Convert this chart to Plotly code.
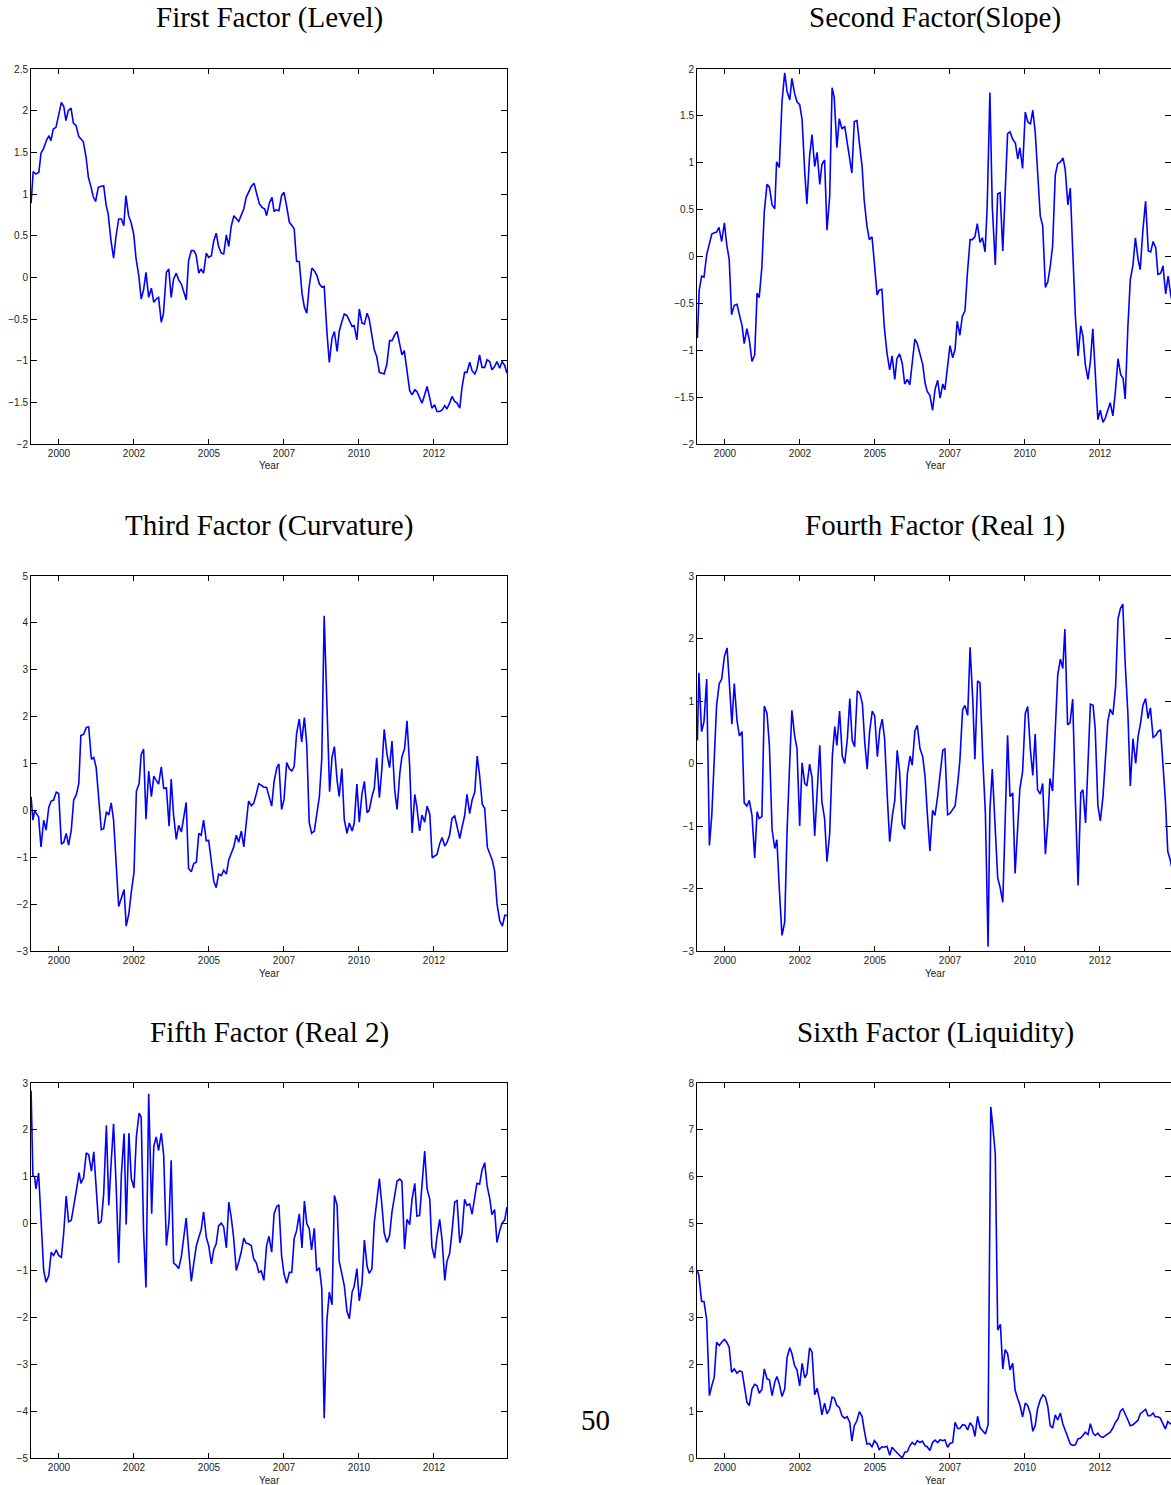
import plotly.graph_objects as go

# ---------------- data (decimal year, factor value) ----------------
level = [(1999.07,0.89),(1999.14,1.27),(1999.23,1.24),(1999.33,1.26),(1999.40,1.49),(1999.48,1.54),(1999.59,1.65),(1999.67,1.70),(1999.73,1.64),(1999.81,1.78),(1999.90,1.80),(1999.98,1.95),(2000.08,2.10),(2000.16,2.05),(2000.23,1.88),(2000.31,2.00),(2000.40,2.03),(2000.48,1.85),(2000.57,1.82),(2000.66,1.69),(2000.81,1.63),(2000.90,1.45),(2000.98,1.20),(2001.07,1.08),(2001.14,0.97),(2001.22,0.91),(2001.31,1.08),(2001.39,1.09),(2001.49,1.10),(2001.57,0.87),(2001.64,0.76),(2001.73,0.45),(2001.82,0.23),(2001.90,0.49),(2001.99,0.70),(2002.08,0.70),(2002.16,0.62),(2002.23,0.98),(2002.32,0.74),(2002.40,0.66),(2002.49,0.52),(2002.57,0.22),(2002.66,0.02),(2002.74,-0.26),(2002.82,-0.15),(2002.90,0.06),(2002.99,-0.24),(2003.08,-0.13),(2003.16,-0.30),(2003.24,-0.26),(2003.32,-0.24),(2003.41,-0.54),(2003.48,-0.44),(2003.58,0.06),(2003.66,0.10),(2003.74,-0.24),(2003.82,-0.02),(2003.91,0.05),(2003.99,-0.03),(2004.08,-0.08),(2004.16,-0.18),(2004.24,-0.27),(2004.32,0.20),(2004.41,0.32),(2004.49,0.32),(2004.57,0.27),(2004.66,0.05),(2004.73,0.10),(2004.82,0.05),(2004.91,0.29),(2004.99,0.24),(2005.08,0.26),(2005.16,0.44),(2005.24,0.53),(2005.32,0.37),(2005.41,0.29),(2005.49,0.28),(2005.58,0.51),(2005.66,0.37),(2005.74,0.61),(2005.83,0.74),(2005.91,0.71),(2005.99,0.67),(2006.08,0.75),(2006.16,0.82),(2006.24,0.96),(2006.32,1.03),(2006.41,1.09),(2006.50,1.13),(2006.59,1.02),(2006.68,0.88),(2006.77,0.84),(2006.86,0.82),(2006.92,0.74),(2007.01,0.89),(2007.10,0.96),(2007.17,0.79),(2007.23,0.81),(2007.33,0.80),(2007.42,0.98),(2007.50,1.02),(2007.59,0.85),(2007.68,0.66),(2007.77,0.62),(2007.84,0.58),(2007.92,0.19),(2008.01,0.19),(2008.10,-0.19),(2008.18,-0.36),(2008.26,-0.43),(2008.34,-0.11),(2008.43,0.11),(2008.51,0.08),(2008.60,0.02),(2008.68,-0.08),(2008.77,-0.12),(2008.84,-0.11),(2008.93,-0.65),(2009.01,-1.02),(2009.10,-0.73),(2009.18,-0.65),(2009.27,-0.89),(2009.34,-0.65),(2009.43,-0.53),(2009.51,-0.44),(2009.60,-0.46),(2009.68,-0.52),(2009.77,-0.59),(2009.84,-0.58),(2009.93,-0.75),(2010.01,-0.38),(2010.10,-0.55),(2010.18,-0.56),(2010.27,-0.43),(2010.34,-0.50),(2010.43,-0.69),(2010.51,-0.87),(2010.59,-0.95),(2010.68,-1.14),(2010.77,-1.15),(2010.84,-1.16),(2010.93,-1.04),(2011.02,-0.76),(2011.10,-0.76),(2011.19,-0.69),(2011.27,-0.65),(2011.36,-0.81),(2011.43,-0.93),(2011.51,-0.88),(2011.60,-1.15),(2011.69,-1.36),(2011.77,-1.41),(2011.86,-1.35),(2011.93,-1.37),(2012.02,-1.45),(2012.10,-1.51),(2012.19,-1.41),(2012.27,-1.31),(2012.36,-1.45),(2012.43,-1.57),(2012.52,-1.53),(2012.60,-1.61),(2012.69,-1.61),(2012.77,-1.59),(2012.86,-1.54),(2012.93,-1.58),(2013.02,-1.51),(2013.10,-1.43),(2013.19,-1.49),(2013.27,-1.51),(2013.36,-1.57),(2013.43,-1.33),(2013.52,-1.14),(2013.60,-1.14),(2013.69,-1.02),(2013.77,-1.12),(2013.86,-1.16),(2013.93,-1.10),(2014.02,-0.93),(2014.10,-1.08),(2014.19,-1.08),(2014.27,-0.99),(2014.36,-1.01),(2014.43,-1.11),(2014.52,-1.07),(2014.60,-1.01),(2014.69,-1.09),(2014.77,-1.01),(2014.86,-1.06),(2014.93,-1.15)]

slope = [(1999.08,-0.87),(1999.14,-0.36),(1999.22,-0.21),(1999.30,-0.22),(1999.39,0.02),(1999.47,0.12),(1999.56,0.24),(1999.63,0.25),(1999.72,0.26),(1999.80,0.31),(1999.89,0.16),(1999.98,0.36),(2000.06,0.12),(2000.14,-0.03),(2000.22,-0.62),(2000.31,-0.52),(2000.40,-0.51),(2000.48,-0.62),(2000.57,-0.74),(2000.64,-0.93),(2000.73,-0.77),(2000.81,-0.89),(2000.90,-1.12),(2000.99,-1.05),(2001.07,-0.39),(2001.14,-0.44),(2001.23,-0.11),(2001.31,0.48),(2001.40,0.77),(2001.48,0.74),(2001.57,0.55),(2001.66,0.51),(2001.72,1.01),(2001.81,0.95),(2001.90,1.65),(2001.99,1.96),(2002.07,1.76),(2002.16,1.67),(2002.23,1.90),(2002.32,1.74),(2002.40,1.65),(2002.49,1.62),(2002.57,1.46),(2002.66,0.89),(2002.73,0.56),(2002.82,1.07),(2002.90,1.30),(2002.99,0.96),(2003.07,1.11),(2003.16,0.77),(2003.23,0.98),(2003.32,1.03),(2003.40,0.28),(2003.49,0.64),(2003.57,1.80),(2003.64,1.70),(2003.73,1.16),(2003.81,1.47),(2003.90,1.36),(2003.99,1.39),(2004.07,1.23),(2004.16,1.07),(2004.23,0.89),(2004.31,1.44),(2004.40,1.45),(2004.48,1.21),(2004.57,0.96),(2004.64,0.60),(2004.73,0.33),(2004.81,0.18),(2004.90,0.21),(2004.98,-0.07),(2005.07,-0.41),(2005.14,-0.36),(2005.23,-0.35),(2005.31,-0.75),(2005.40,-1.03),(2005.49,-1.21),(2005.57,-1.06),(2005.66,-1.31),(2005.73,-1.09),(2005.82,-1.04),(2005.91,-1.14),(2005.99,-1.36),(2006.08,-1.31),(2006.16,-1.37),(2006.24,-1.10),(2006.33,-0.88),(2006.41,-0.93),(2006.50,-1.05),(2006.59,-1.15),(2006.67,-1.35),(2006.74,-1.44),(2006.83,-1.48),(2006.92,-1.64),(2007.00,-1.42),(2007.09,-1.32),(2007.17,-1.51),(2007.26,-1.36),(2007.33,-1.42),(2007.42,-1.17),(2007.50,-0.95),(2007.59,-1.08),(2007.67,-0.99),(2007.74,-0.69),(2007.83,-0.84),(2007.91,-0.64),(2008.00,-0.58),(2008.08,-0.18),(2008.17,0.18),(2008.24,0.18),(2008.33,0.21),(2008.41,0.35),(2008.50,0.15),(2008.58,0.20),(2008.67,0.05),(2008.74,0.53),(2008.83,1.75),(2008.91,0.53),(2009.01,-0.09),(2009.09,0.67),(2009.17,0.68),(2009.26,0.06),(2009.34,0.75),(2009.42,1.31),(2009.50,1.33),(2009.59,1.25),(2009.68,1.21),(2009.76,1.04),(2009.83,1.16),(2009.92,0.94),(2010.01,1.54),(2010.09,1.44),(2010.18,1.41),(2010.26,1.56),(2010.34,1.33),(2010.42,0.89),(2010.51,0.43),(2010.59,0.33),(2010.68,-0.33),(2010.76,-0.27),(2010.84,-0.11),(2010.92,0.11),(2011.01,0.87),(2011.09,0.99),(2011.18,1.01),(2011.27,1.05),(2011.34,0.93),(2011.43,0.55),(2011.51,0.73),(2011.59,0.07),(2011.68,-0.64),(2011.77,-1.06),(2011.86,-0.74),(2011.93,-0.85),(2012.01,-1.15),(2012.10,-1.31),(2012.18,-1.12),(2012.26,-0.77),(2012.34,-1.25),(2012.43,-1.74),(2012.51,-1.64),(2012.60,-1.77),(2012.68,-1.72),(2012.77,-1.64),(2012.84,-1.56),(2012.93,-1.70),(2013.01,-1.45),(2013.10,-1.09),(2013.19,-1.26),(2013.27,-1.30),(2013.34,-1.52),(2013.43,-0.75),(2013.51,-0.25),(2013.60,-0.09),(2013.68,0.20),(2013.77,-0.03),(2013.84,-0.14),(2013.93,0.28),(2014.02,0.59),(2014.11,0.06),(2014.19,0.05),(2014.27,0.16),(2014.36,0.09),(2014.43,-0.19),(2014.52,-0.18),(2014.60,-0.10),(2014.69,-0.40),(2014.77,-0.21),(2014.87,-0.43),(2014.93,-0.50)]

curvature = [(1999.07,0.29),(1999.13,-0.21),(1999.19,-0.01),(1999.23,-0.05),(1999.32,-0.14),(1999.40,-0.78),(1999.49,-0.21),(1999.57,-0.42),(1999.66,0.07),(1999.74,0.20),(1999.82,0.22),(1999.91,0.39),(1999.99,0.36),(2000.08,-0.72),(2000.16,-0.68),(2000.24,-0.49),(2000.32,-0.74),(2000.41,-0.42),(2000.49,0.22),(2000.58,0.34),(2000.66,0.57),(2000.73,1.60),(2000.82,1.62),(2000.91,1.77),(2000.99,1.78),(2001.08,1.09),(2001.16,1.13),(2001.24,0.91),(2001.32,0.36),(2001.41,-0.41),(2001.49,-0.39),(2001.58,-0.03),(2001.66,-0.10),(2001.74,0.16),(2001.82,-0.21),(2001.91,-1.21),(2001.99,-2.05),(2002.08,-1.87),(2002.17,-1.69),(2002.24,-2.47),(2002.33,-2.20),(2002.41,-1.74),(2002.50,-1.33),(2002.58,0.41),(2002.67,0.57),(2002.74,1.19),(2002.82,1.31),(2002.90,-0.19),(2002.99,0.84),(2003.08,0.29),(2003.16,0.73),(2003.24,0.64),(2003.32,0.56),(2003.41,0.93),(2003.49,0.47),(2003.58,0.48),(2003.67,-0.34),(2003.74,0.67),(2003.82,-0.10),(2003.91,-0.62),(2003.99,-0.32),(2004.08,-0.46),(2004.16,-0.12),(2004.24,0.17),(2004.32,-1.24),(2004.41,-1.31),(2004.49,-1.14),(2004.58,-1.10),(2004.66,-0.49),(2004.74,-0.53),(2004.82,-0.21),(2004.91,-0.65),(2004.99,-0.64),(2005.08,-1.10),(2005.16,-1.51),(2005.24,-1.65),(2005.32,-1.36),(2005.41,-1.39),(2005.49,-1.28),(2005.58,-1.36),(2005.66,-1.05),(2005.74,-0.92),(2005.82,-0.79),(2005.91,-0.53),(2005.99,-0.68),(2006.08,-0.44),(2006.16,-0.78),(2006.24,-0.28),(2006.32,0.20),(2006.41,0.10),(2006.49,0.15),(2006.58,0.36),(2006.66,0.57),(2006.74,0.54),(2006.82,0.50),(2006.92,0.49),(2007.01,0.29),(2007.09,0.09),(2007.17,0.62),(2007.26,0.91),(2007.33,0.99),(2007.42,0.02),(2007.50,0.23),(2007.59,1.02),(2007.68,0.89),(2007.76,0.84),(2007.84,0.94),(2007.92,1.64),(2008.01,1.95),(2008.09,1.46),(2008.18,1.98),(2008.26,1.39),(2008.34,-0.25),(2008.42,-0.49),(2008.51,-0.44),(2008.59,-0.07),(2008.68,0.30),(2008.76,1.11),(2008.84,4.15),(2008.93,2.28),(2009.02,0.40),(2009.10,1.13),(2009.18,1.36),(2009.27,0.64),(2009.34,0.30),(2009.43,0.89),(2009.51,-0.20),(2009.60,-0.49),(2009.68,-0.27),(2009.77,-0.44),(2009.84,-0.28),(2009.93,0.56),(2010.01,-0.25),(2010.10,0.36),(2010.18,0.62),(2010.27,-0.05),(2010.34,0.00),(2010.43,0.29),(2010.51,0.47),(2010.59,1.12),(2010.68,0.27),(2010.76,0.86),(2010.84,1.73),(2010.93,1.21),(2011.02,0.91),(2011.10,1.48),(2011.19,0.43),(2011.27,0.02),(2011.36,0.79),(2011.43,1.14),(2011.52,1.32),(2011.60,1.91),(2011.69,0.93),(2011.77,-0.48),(2011.86,0.34),(2011.93,0.07),(2012.02,-0.44),(2012.10,-0.10),(2012.19,-0.25),(2012.27,0.09),(2012.36,-0.08),(2012.44,-1.01),(2012.52,-0.98),(2012.60,-0.94),(2012.69,-0.71),(2012.77,-0.58),(2012.86,-0.76),(2012.93,-0.69),(2013.02,-0.53),(2013.10,-0.17),(2013.19,-0.12),(2013.27,-0.37),(2013.36,-0.60),(2013.43,-0.37),(2013.52,-0.12),(2013.60,0.34),(2013.69,-0.07),(2013.77,0.22),(2013.86,0.39),(2013.94,1.16),(2014.02,0.75),(2014.11,0.13),(2014.19,0.04),(2014.28,-0.79),(2014.36,-0.92),(2014.44,-1.06),(2014.52,-1.29),(2014.60,-1.99),(2014.69,-2.35),(2014.78,-2.47),(2014.86,-2.24),(2014.93,-2.24)]

real1 = [(1999.08,0.37),(1999.13,1.45),(1999.22,0.51),(1999.30,0.67),(1999.39,1.35),(1999.48,-1.31),(1999.56,-0.83),(1999.64,0.05),(1999.72,0.93),(1999.81,1.28),(1999.89,1.35),(1999.98,1.71),(2000.07,1.85),(2000.14,1.33),(2000.23,0.63),(2000.31,1.28),(2000.40,0.69),(2000.48,0.44),(2000.57,0.51),(2000.64,-0.63),(2000.73,-0.68),(2000.81,-0.59),(2000.90,-0.83),(2000.99,-1.51),(2001.07,-0.77),(2001.14,-0.88),(2001.23,-0.85),(2001.31,0.92),(2001.40,0.80),(2001.48,0.29),(2001.57,-1.06),(2001.66,-1.36),(2001.73,-1.22),(2001.81,-2.00),(2001.90,-2.75),(2001.99,-2.54),(2002.07,-1.07),(2002.16,0.05),(2002.23,0.85),(2002.32,0.45),(2002.40,0.24),(2002.49,-1.00),(2002.57,0.01),(2002.66,-0.32),(2002.73,-0.36),(2002.82,-0.01),(2002.90,-0.22),(2002.99,-1.16),(2003.07,-0.37),(2003.16,0.29),(2003.23,-0.61),(2003.32,-0.88),(2003.40,-1.57),(2003.49,-1.12),(2003.58,0.13),(2003.66,0.59),(2003.73,0.29),(2003.82,0.84),(2003.91,0.12),(2003.99,0.00),(2004.08,0.40),(2004.16,1.04),(2004.24,0.37),(2004.32,0.27),(2004.41,1.16),(2004.49,1.13),(2004.58,0.96),(2004.66,0.33),(2004.74,-0.09),(2004.82,0.51),(2004.91,0.84),(2004.99,0.76),(2005.08,0.11),(2005.16,0.54),(2005.24,0.71),(2005.32,0.40),(2005.41,-0.53),(2005.49,-1.25),(2005.58,-0.83),(2005.66,-0.59),(2005.74,0.21),(2005.82,-0.13),(2005.91,-0.97),(2005.99,-1.05),(2006.08,-0.16),(2006.17,0.12),(2006.24,-0.03),(2006.33,0.52),(2006.41,0.61),(2006.50,0.24),(2006.59,0.11),(2006.67,-0.21),(2006.74,-0.77),(2006.83,-1.40),(2006.92,-0.75),(2007.00,-0.83),(2007.09,-0.52),(2007.17,-0.20),(2007.26,0.21),(2007.33,0.24),(2007.42,-0.82),(2007.50,-0.80),(2007.59,-0.73),(2007.67,-0.68),(2007.76,-0.31),(2007.83,0.05),(2007.92,0.86),(2008.00,0.93),(2008.09,0.77),(2008.17,1.86),(2008.26,1.01),(2008.33,0.07),(2008.42,1.32),(2008.50,1.29),(2008.59,0.11),(2008.68,-0.80),(2008.77,-2.93),(2008.83,-0.75),(2008.91,-0.09),(2009.00,-0.99),(2009.09,-1.83),(2009.17,-1.98),(2009.26,-2.22),(2009.34,-0.91),(2009.42,0.45),(2009.50,-0.53),(2009.59,-0.47),(2009.67,-1.76),(2009.76,-0.96),(2009.83,-0.40),(2009.92,-0.13),(2010.01,0.80),(2010.09,0.91),(2010.18,0.22),(2010.26,-0.19),(2010.34,0.47),(2010.42,-0.42),(2010.51,-0.49),(2010.59,-0.32),(2010.68,-1.45),(2010.76,-0.95),(2010.83,-0.24),(2010.92,-0.44),(2011.01,0.59),(2011.09,1.41),(2011.18,1.67),(2011.26,1.52),(2011.33,2.15),(2011.42,0.62),(2011.50,0.65),(2011.59,1.03),(2011.68,-0.59),(2011.77,-1.95),(2011.86,-0.47),(2011.93,-0.42),(2012.02,-0.95),(2012.10,0.00),(2012.18,0.95),(2012.27,0.93),(2012.34,0.56),(2012.43,-0.67),(2012.51,-0.92),(2012.60,-0.53),(2012.68,0.00),(2012.76,0.67),(2012.84,0.87),(2012.93,0.78),(2013.02,1.23),(2013.10,2.31),(2013.18,2.48),(2013.26,2.55),(2013.34,1.60),(2013.43,0.80),(2013.51,-0.36),(2013.60,0.40),(2013.69,0.00),(2013.77,0.43),(2013.86,0.67),(2013.93,0.93),(2014.02,1.04),(2014.10,0.72),(2014.18,0.89),(2014.27,0.42),(2014.36,0.45),(2014.43,0.51),(2014.52,0.54),(2014.60,0.05),(2014.68,-0.59),(2014.76,-1.41),(2014.84,-1.54),(2014.93,-1.75)]

real2 = [(1999.07,2.84),(1999.13,1.03),(1999.19,0.99),(1999.23,0.74),(1999.32,1.08),(1999.40,0.07),(1999.49,-1.00),(1999.57,-1.25),(1999.66,-1.11),(1999.74,-0.61),(1999.82,-0.68),(1999.91,-0.56),(1999.99,-0.68),(2000.08,-0.72),(2000.16,-0.18),(2000.24,0.59),(2000.32,0.04),(2000.41,0.07),(2000.49,0.35),(2000.58,0.71),(2000.67,1.09),(2000.73,0.86),(2000.82,0.98),(2000.91,1.51),(2000.99,1.47),(2001.08,1.12),(2001.16,1.53),(2001.24,0.71),(2001.32,0.00),(2001.41,0.05),(2001.49,0.64),(2001.58,2.10),(2001.66,0.39),(2001.74,1.31),(2001.82,2.13),(2001.91,0.74),(2001.99,-0.84),(2002.08,1.06),(2002.17,1.92),(2002.24,-0.02),(2002.33,1.93),(2002.41,0.96),(2002.50,0.76),(2002.58,1.85),(2002.67,2.36),(2002.74,2.27),(2002.82,-0.18),(2002.90,-1.36),(2002.99,2.77),(2003.09,0.21),(2003.16,1.65),(2003.24,1.85),(2003.32,1.56),(2003.41,1.93),(2003.49,1.46),(2003.58,-0.47),(2003.67,0.07),(2003.74,1.35),(2003.82,-0.84),(2003.91,-0.89),(2003.99,-0.96),(2004.08,-0.70),(2004.16,-0.24),(2004.24,0.12),(2004.32,-0.54),(2004.41,-1.23),(2004.49,-0.86),(2004.58,-0.47),(2004.66,-0.29),(2004.74,-0.13),(2004.82,0.25),(2004.91,-0.29),(2004.99,-0.47),(2005.08,-0.86),(2005.16,-0.55),(2005.24,-0.43),(2005.32,-0.05),(2005.41,0.01),(2005.49,-0.07),(2005.58,-0.52),(2005.66,0.46),(2005.74,0.14),(2005.82,-0.29),(2005.91,-1.00),(2005.99,-0.82),(2006.08,-0.59),(2006.16,-0.31),(2006.24,-0.42),(2006.32,-0.43),(2006.41,-0.47),(2006.49,-0.75),(2006.58,-0.84),(2006.66,-1.04),(2006.74,-1.01),(2006.83,-1.21),(2006.92,-0.47),(2007.00,-0.27),(2007.09,-0.61),(2007.17,0.21),(2007.26,0.37),(2007.33,0.40),(2007.42,-0.68),(2007.50,-1.07),(2007.59,-1.27),(2007.68,-1.04),(2007.76,-1.04),(2007.84,-0.32),(2007.92,-0.15),(2008.01,0.21),(2008.10,-0.52),(2008.18,0.48),(2008.26,0.00),(2008.34,-0.11),(2008.42,-0.56),(2008.51,-0.10),(2008.59,-1.01),(2008.68,-0.94),(2008.76,-1.39),(2008.84,-4.15),(2008.93,-2.07),(2009.01,-1.46),(2009.10,-1.73),(2009.18,0.60),(2009.27,0.39),(2009.34,-0.80),(2009.43,-1.07),(2009.51,-1.32),(2009.60,-1.87),(2009.68,-2.03),(2009.77,-1.46),(2009.84,-1.34),(2009.93,-0.96),(2010.01,-1.65),(2010.10,-1.28),(2010.18,-0.35),(2010.27,-0.91),(2010.34,-1.06),(2010.43,-0.97),(2010.51,0.03),(2010.59,0.46),(2010.68,0.96),(2010.77,0.35),(2010.84,-0.20),(2010.93,-0.40),(2011.02,-0.25),(2011.10,0.25),(2011.19,0.64),(2011.27,0.91),(2011.36,0.95),(2011.43,0.90),(2011.52,-0.54),(2011.60,0.09),(2011.69,-0.02),(2011.77,0.53),(2011.86,0.86),(2011.93,0.16),(2012.02,0.17),(2012.10,0.78),(2012.19,1.55),(2012.27,0.74),(2012.36,0.52),(2012.43,-0.49),(2012.52,-0.74),(2012.60,-0.27),(2012.69,0.09),(2012.77,-0.35),(2012.86,-1.21),(2012.93,-0.81),(2013.02,-0.64),(2013.10,-0.18),(2013.19,0.46),(2013.27,0.49),(2013.36,-0.41),(2013.43,-0.22),(2013.52,0.52),(2013.60,0.39),(2013.69,0.42),(2013.77,0.20),(2013.86,0.62),(2013.93,0.86),(2014.02,0.84),(2014.10,1.14),(2014.19,1.30),(2014.27,0.81),(2014.36,0.53),(2014.43,0.19),(2014.52,0.30),(2014.60,-0.40),(2014.69,-0.15),(2014.77,0.01),(2014.86,0.08),(2014.93,0.35)]

liquidity = [(1999.08,4.00),(1999.13,3.89),(1999.22,3.34),(1999.30,3.34),(1999.39,2.95),(1999.48,1.33),(1999.56,1.54),(1999.64,1.72),(1999.72,2.47),(1999.81,2.40),(1999.89,2.47),(1999.98,2.53),(2000.06,2.47),(2000.14,2.36),(2000.22,1.83),(2000.31,1.90),(2000.40,1.81),(2000.48,1.86),(2000.57,1.84),(2000.64,1.52),(2000.73,1.19),(2000.81,1.12),(2000.90,1.47),(2000.99,1.57),(2001.07,1.54),(2001.14,1.38),(2001.23,1.46),(2001.31,1.90),(2001.40,1.69),(2001.48,1.67),(2001.57,1.33),(2001.66,1.62),(2001.73,1.74),(2001.81,1.58),(2001.90,1.31),(2001.99,1.47),(2002.07,2.15),(2002.16,2.35),(2002.23,2.23),(2002.32,1.97),(2002.40,1.88),(2002.49,1.54),(2002.57,2.02),(2002.66,1.71),(2002.73,1.79),(2002.82,2.35),(2002.90,2.26),(2002.99,1.35),(2003.07,1.49),(2003.16,1.22),(2003.23,0.92),(2003.32,1.17),(2003.40,0.94),(2003.49,1.05),(2003.57,1.30),(2003.64,1.28),(2003.73,1.12),(2003.81,1.08),(2003.90,0.90),(2003.99,0.85),(2004.07,0.88),(2004.16,0.76),(2004.23,0.36),(2004.31,0.69),(2004.40,0.80),(2004.48,0.99),(2004.57,0.89),(2004.64,0.60),(2004.73,0.30),(2004.81,0.31),(2004.90,0.24),(2004.98,0.37),(2005.07,0.30),(2005.14,0.18),(2005.23,0.24),(2005.31,0.23),(2005.40,0.25),(2005.49,0.06),(2005.57,0.23),(2005.66,0.16),(2005.73,0.11),(2005.82,0.05),(2005.91,0.00),(2005.99,0.12),(2006.08,0.14),(2006.16,0.26),(2006.24,0.33),(2006.33,0.28),(2006.41,0.37),(2006.50,0.33),(2006.58,0.36),(2006.67,0.26),(2006.74,0.24),(2006.83,0.16),(2006.92,0.33),(2007.00,0.38),(2007.09,0.33),(2007.17,0.39),(2007.26,0.37),(2007.33,0.39),(2007.42,0.23),(2007.50,0.31),(2007.59,0.33),(2007.67,0.76),(2007.76,0.63),(2007.83,0.63),(2007.92,0.71),(2008.00,0.70),(2008.09,0.60),(2008.17,0.75),(2008.26,0.67),(2008.33,0.46),(2008.42,0.89),(2008.50,0.65),(2008.59,0.57),(2008.68,0.51),(2008.77,0.71),(2008.86,7.49),(2008.93,7.06),(2009.01,6.49),(2009.09,2.73),(2009.18,2.85),(2009.26,1.90),(2009.34,2.31),(2009.42,2.23),(2009.50,1.88),(2009.59,2.02),(2009.67,1.45),(2009.76,1.26),(2009.83,1.13),(2009.92,0.88),(2010.01,1.17),(2010.09,1.12),(2010.18,0.94),(2010.26,0.57),(2010.34,0.69),(2010.42,1.05),(2010.51,1.24),(2010.60,1.35),(2010.68,1.30),(2010.76,1.10),(2010.84,0.69),(2010.92,0.64),(2011.01,0.92),(2011.09,0.81),(2011.18,0.96),(2011.26,0.73),(2011.34,0.60),(2011.42,0.44),(2011.51,0.30),(2011.59,0.27),(2011.68,0.28),(2011.77,0.41),(2011.84,0.42),(2011.93,0.48),(2012.01,0.55),(2012.10,0.50),(2012.18,0.73),(2012.27,0.53),(2012.34,0.48),(2012.43,0.53),(2012.51,0.46),(2012.60,0.44),(2012.68,0.48),(2012.77,0.51),(2012.84,0.55),(2012.93,0.64),(2013.01,0.76),(2013.10,0.83),(2013.18,1.00),(2013.26,1.05),(2013.34,0.95),(2013.43,0.81),(2013.51,0.69),(2013.60,0.71),(2013.69,0.76),(2013.77,0.81),(2013.84,0.94),(2013.93,1.00),(2014.02,1.04),(2014.10,0.90),(2014.18,0.90),(2014.27,0.96),(2014.34,0.88),(2014.43,0.88),(2014.51,0.85),(2014.60,0.73),(2014.68,0.62),(2014.76,0.78),(2014.84,0.73),(2014.93,0.75)]

titles = ["First Factor (Level)", "Second Factor(Slope)", "Third Factor (Curvature)",
          "Fourth Factor (Real 1)", "Fifth Factor (Real 2)", "Sixth Factor (Liquidity)"]
series = [level, slope, curvature, real1, real2, liquidity]

year_tickvals = [2000, 2002.5, 2005, 2007.5, 2010, 2012.5]
year_ticktext = ["2000", "2002", "2005", "2007", "2010", "2012"]

y_ranges = [(-2, 2.5), (-2, 2), (-3, 5), (-3, 3), (-5, 3), (0, 8)]
y_steps = [0.5, 0.5, 1, 1, 1, 1]
x_start = 1999.067

# ---------------- layout geometry (pixels) ----------------
W, H = 1171, 1485
col_x = [(31, 507), (697, 1173)]
row_y = [(69, 444), (576, 951), (1083, 1458)]


def fmt(v):
    return ("%g" % v).replace("-", "\u2212")


fig = go.Figure()
annotations = []
px_per_year = 30.0
sans = "Liberation Sans, Arial, sans-serif"
serif = "Liberation Serif, Times New Roman, serif"

for i, (data, title) in enumerate(zip(series, titles)):
    r, c = divmod(i, 2)
    x0, x1 = col_x[c]
    y0, y1 = row_y[r]
    x1c = min(x1, W)
    xr_end = x_start + (x1c - x0) / px_per_year
    n = i + 1
    t = [p[0] for p in data]
    v = [p[1] for p in data]
    fig.add_trace(go.Scatter(x=t, y=v, mode="lines", line=dict(color="#0000ff", width=1.6),
                             xaxis="x%d" % n, yaxis="y%d" % n, showlegend=False, hoverinfo="skip"))
    lo, hi = y_ranges[i]
    step = y_steps[i]
    k = int(round((hi - lo) / step))
    yt = [lo + j * step for j in range(k + 1)]
    common = dict(showline=True, linecolor="black", linewidth=1, mirror="ticks", ticks="inside",
                  tickcolor="black", tickwidth=1, showgrid=False, zeroline=False, automargin=False,
                  tickfont=dict(family=sans, size=10, color="#222"))
    fig.update_layout(**{
        "xaxis%d" % n: dict(domain=[x0 / W, x1c / W], range=[x_start, xr_end], anchor="y%d" % n,
                            tickvals=year_tickvals, ticktext=year_ticktext, ticklen=5, **common),
        "yaxis%d" % n: dict(domain=[1 - y1 / H, 1 - y0 / H], range=[lo, hi], anchor="x%d" % n,
                            tickvals=yt, ticktext=[fmt(val) for val in yt], ticklen=6, **common),
    })
    cx = (x0 + x1) / 2.0
    annotations.append(dict(text=title, x=cx / W, y=1 - (y0 - 51) / H, xref="paper", yref="paper",
                            xanchor="center", yanchor="middle", showarrow=False,
                            font=dict(family=serif, size=29, color="black")))
    annotations.append(dict(text="Year", x=cx / W, y=1 - (y1 + 22) / H, xref="paper", yref="paper",
                            xanchor="center", yanchor="middle", showarrow=False,
                            font=dict(family=sans, size=10, color="#222")))

annotations.append(dict(text="50", x=595 / W, y=1 - 1420 / H, xref="paper", yref="paper",
                        xanchor="center", yanchor="middle", showarrow=False,
                        font=dict(family=serif, size=29, color="black")))

fig.update_layout(width=W, height=H, margin=dict(l=0, r=0, t=0, b=0, autoexpand=False),
                  paper_bgcolor="white", plot_bgcolor="white", annotations=annotations)

fig.write_html("out.html")
